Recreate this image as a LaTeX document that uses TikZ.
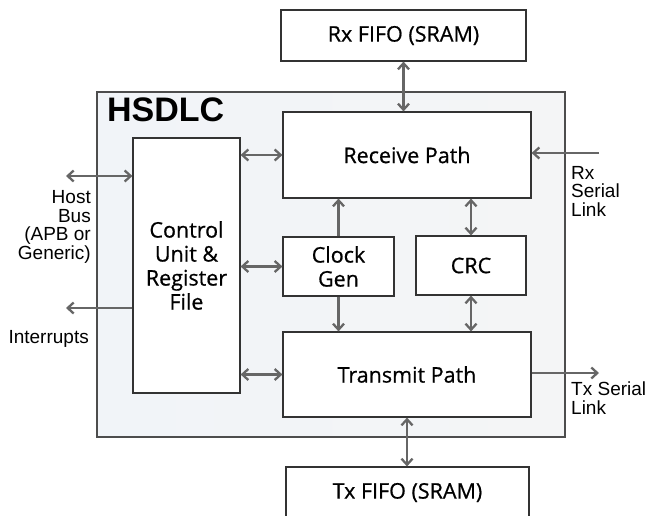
\documentclass[tikz,border=0pt]{standalone}
\usepackage{fontspec}
\setmainfont{Open Sans}
\newfontfamily\boxfont[FakeBold=0.7]{Open Sans}
\newfontfamily\lblfont{Liberation Sans}
\usepackage{xcolor}
\usetikzlibrary{positioning, arrows.meta, calc}
\definecolor{edgegray}{HTML}{666666}
\definecolor{boxline}{HTML}{333333}
\definecolor{chipleft}{HTML}{F1F4F8}
\definecolor{chipright}{HTML}{F4F5F6}
\definecolor{chipline}{HTML}{4D4D4D}
\tikzstyle{block} = [rectangle, draw=boxline, line width=1.2pt, fill=white, align=center, inner sep=2pt, font=\boxfont\fontsize{21.5}{24}\selectfont]
\tikzstyle{input} = [coordinate]
\tikzstyle{line} = [draw=edgegray, line width=2.3pt, -{Straight Barb[length=6pt, width=11pt]}]
\tikzstyle{biline} = [draw=edgegray, line width=2.3pt, {Straight Barb[length=6pt, width=11pt]}-{Straight Barb[length=6pt, width=11pt]}]
\tikzstyle{lbl} = [inner sep=0pt, font=\lblfont\fontsize{19}{18.5}\selectfont]

\begin{document}
\begin{tikzpicture}[x=1pt, y=-1pt]
        \clip (0,0) rectangle (648,515);
        \fill[white] (0,0) rectangle (648,515);
        % HSDLC boundary
        \node (hsdlc) [rectangle, draw=chipline, line width=1.8pt, left color=chipleft, right color=chipright, minimum width=468pt, minimum height=345pt] at (331,264.5) {};
        \node (title) [anchor=west, inner sep=0pt, font=\lblfont\fontsize{34}{34}\selectfont\bfseries] at (107,110) {HSDLC};
        % Nodes
        \node (rxfifo) [block, minimum width=245pt, minimum height=51pt] at (403.5,35.5) {Rx FIFO (SRAM)};
        \node (recv) [block, minimum width=248pt, minimum height=86pt] at (407,155) {Receive Path};
        \node (clk) [block, minimum width=111pt, minimum height=59pt] at (338.5,266.5) {Clock\\Gen};
        \node (crc) [block, minimum width=110pt, minimum height=59pt] at (471,265.5) {CRC};
        \node (txp) [block, minimum width=248pt, minimum height=85pt] at (407,374.5) {Transmit Path};
        \node (txfifo) [block, minimum width=243pt, minimum height=51pt] at (407.5,492.5) {Tx FIFO (SRAM)};
        \node (ctrl) [block, minimum width=107pt, minimum height=255pt] at (186.5,265.5) {Control\\Unit \&\\Register\\File};
        % Outside ends
        \node (host) [input] at (66,176) {};
        \node (irq) [input] at (66,308) {};
        \node (rxin) [input] at (599,153) {};
        \node (txout) [input] at (599,373) {};
        % Labels
        \node (hostlbl) [lbl, anchor=east, align=right] at (91,227) {Host\\Bus\\(APB or\\Generic)};
        \node (irqlbl) [lbl, anchor=east] at (89,339) {Interrupts};
        \node (rxlbl) [lbl, anchor=west, align=left] at (571,191) {Rx\\Serial\\Link};
        \node (txlbl) [lbl, anchor=west, align=left] at (571,398) {Tx Serial\\Link};
        % Edges
        \path [biline] (host) -- (host -| ctrl.west);
        \path [line] (irq -| ctrl.west) -- (irq);
        \path [biline] (ctrl.east |- recv.west) -- (recv.west);
        \path [biline] (ctrl.east |- clk.west) -- (clk.west);
        \path [biline] (ctrl.east |- txp.west) -- (txp.west);
        \path [biline] (rxfifo.south) -- (rxfifo.south |- recv.north);
        \path [line] (clk.north) -- (clk.north |- recv.south);
        \path [biline] (crc.north) -- (crc.north |- recv.south);
        \path [line] (clk.south) -- (clk.south |- txp.north);
        \path [biline] (crc.south) -- (crc.south |- txp.north);
        \path [biline] (txp.south) -- (txp.south |- txfifo.north);
        \path [line] (rxin) -- (rxin -| recv.east);
        \path [line] (txout -| txp.east) -- (txout);
    \end{tikzpicture}
\end{document}
